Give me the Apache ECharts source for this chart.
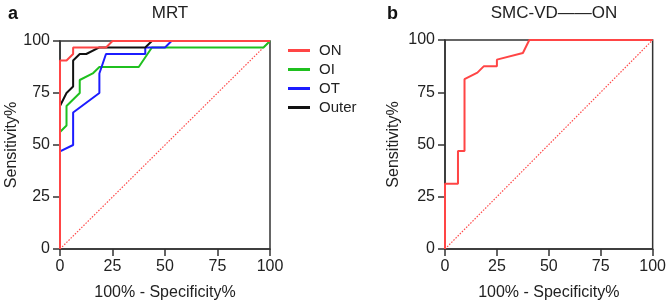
<!DOCTYPE html>
<html>
<head>
<meta charset="utf-8">
<script src="https://cdn.jsdelivr.net/npm/echarts@6/dist/echarts.min.js"></script>
<style>
  html, body { margin: 0; padding: 0; background: #fff; }
  #main { width: 669px; height: 306px; }
</style>
</head>
<body>
<div id="main"></div>
<script>
// panel a: MRT
var onA = [[0,0],[0,90.6],[3.1,90.6],[6.25,93.75],[6.25,96.9],[21.9,96.9],[25,100],[100,100]];
var oiA = [[0,0],[0,56.25],[3.1,59.4],[3.1,68.75],[9.4,75],[9.4,81.25],[15.6,84.4],[18.75,87.5],[37.5,87.5],[43.75,96.9],[96.9,96.9],[100,100]];
var otA = [[0,0],[0,46.9],[6.25,50],[6.25,65.6],[18.75,75],[18.75,84.4],[21.9,93.75],[40.6,93.75],[40.6,96.9],[50,96.9],[53.1,100],[100,100]];
var outerA = [[0,0],[0,68.75],[3.1,75],[6.25,78.1],[6.25,90.6],[9.4,93.75],[12.5,93.75],[18.75,96.9],[40.6,96.9],[43.75,100],[100,100]];
// panel b: SMC-VD -- ON
var onB = [[0,0],[0,31.25],[6.25,31.25],[6.25,46.9],[9.4,46.9],[9.4,81.25],[15.6,84.4],[18.75,87.5],[25,87.5],[25,90.6],[37.5,93.75],[40.6,100],[100,100]];
var diag = [[0,0],[100,100]];

var names = ['ON', 'OI', 'OT', 'Outer'];
var colors = ['#ff4545', '#1fc01f', '#1c1cff', '#111111'];

var font = 'Arial, "Liberation Sans", sans-serif';
var axisColor = '#333';

function xAx(idx) {
  return {
    gridIndex: idx, type: 'value', min: 0, max: 100, interval: 25,
    name: '100% - Specificity%', nameLocation: 'middle', nameGap: 36,
    nameTextStyle: { fontSize: 16, color: '#222', fontFamily: font },
    axisLine: { lineStyle: { color: axisColor, width: 1.5 } },
    axisTick: { length: 7, lineStyle: { color: axisColor, width: 1.5 } },
    axisLabel: { fontSize: 16, color: '#222', margin: 10, fontFamily: font },
    splitLine: { show: false }
  };
}
function yAx(idx, gap) {
  return {
    gridIndex: idx, type: 'value', min: 0, max: 100, interval: 25,
    name: 'Sensitivity%', nameLocation: 'middle', nameGap: gap,
    nameTextStyle: { fontSize: 16, color: '#222', fontFamily: font },
    axisLine: { lineStyle: { color: axisColor, width: 1.5 } },
    axisTick: { length: 7, lineStyle: { color: axisColor, width: 1.5 } },
    axisLabel: { fontSize: 16, color: '#222', margin: 10, fontFamily: font },
    splitLine: { show: false }
  };
}
function curve(name, data, color, idx) {
  return {
    name: name, type: 'line', data: data, xAxisIndex: idx, yAxisIndex: idx,
    symbol: 'none', lineStyle: { color: color, width: 2 }, itemStyle: { color: color },
    animation: false, z: 3
  };
}
function diagLine(idx) {
  return {
    type: 'line', data: diag, xAxisIndex: idx, yAxisIndex: idx, symbol: 'none',
    lineStyle: { color: '#ff4a4a', width: 1.2, type: [1.5, 1.5] }, animation: false, z: 2
  };
}

var myChart = echarts.init(document.getElementById('main'));

var option = {
  backgroundColor: '#fff',
  textStyle: { fontFamily: font },
  title: [
    { text: 'a', left: 3, top: 0, textStyle: { fontSize: 18, fontWeight: 'bold', color: '#111' } },
    { text: 'MRT', left: 165, top: 0, textAlign: 'center', textStyle: { fontSize: 17, fontWeight: 'normal', color: '#222' } },
    { text: 'b', left: 382, top: 0, textStyle: { fontSize: 18, fontWeight: 'bold', color: '#111' } },
    { text: 'SMC-VD——ON', left: 549, top: 0, textAlign: 'center', textStyle: { fontSize: 17, fontWeight: 'normal', color: '#222' } }
  ],
  legend: {
    data: names, orient: 'vertical', left: 283, top: 38, itemGap: 4,
    icon: 'rect', itemWidth: 22, itemHeight: 3,
    textStyle: { fontSize: 15, color: '#222', padding: [0, 0, 0, 4] }
  },
  grid: [
    { left: 60, top: 41, width: 210, height: 211, show: true, borderColor: axisColor, borderWidth: 1.5 },
    { left: 445, top: 40, width: 209, height: 210, show: true, borderColor: axisColor, borderWidth: 1.5 }
  ],
  xAxis: [xAx(0), xAx(1)],
  yAxis: [yAx(0, 40), yAx(1, 43)],
  series: [
    diagLine(0),
    curve(names[1], oiA, colors[1], 0),
    curve(names[2], otA, colors[2], 0),
    curve(names[3], outerA, colors[3], 0),
    curve(names[0], onA, colors[0], 0),
    diagLine(1),
    curve('ON', onB, colors[0], 1)
  ]
};

myChart.setOption(option);
</script>
</body>
</html>
